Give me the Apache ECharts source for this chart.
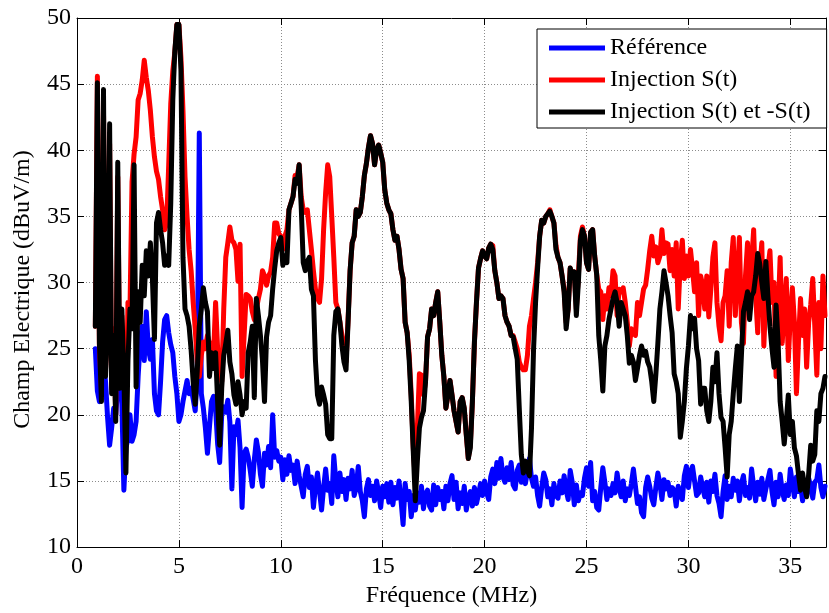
<!DOCTYPE html>
<html>
<head>
<meta charset="utf-8">
<script src="https://cdn.jsdelivr.net/npm/echarts@6/dist/echarts.min.js"></script>
<style>
html,body{margin:0;padding:0;background:#fff;}
#chart{width:829px;height:613px;}
</style>
</head>
<body>
<div id="chart"></div>
<script>
// Frequency sampling grid (MHz): first sample and spacing of the measurement
const freqStart = 0.9;
const freqStep = 0.1;

const seriesNames = ['Référence', 'Injection S(t)', 'Injection S(t) et -S(t)'];
const xTicks = [0, 5, 10, 15, 20, 25, 30, 35];
const yTicks = [10, 15, 20, 25, 30, 35, 40, 45, 50];

// Référence (dBuV/m), one value per 0.1 MHz from 0.9 MHz
const reference = [
  25.0,
  21.8, 21.0, 22.9, 24.3, 22.5, 19.8, 17.7, 19.0, 20.5, 20.0,
  22.0, 24.5, 21.0, 14.3, 17.5, 18.2, 20.0, 18.0, 18.5, 19.5,
  22.9, 25.5, 26.7, 24.1, 27.8, 25.0, 24.2, 25.7, 21.6, 20.3,
  20.0, 22.5, 25.5, 27.2, 27.5, 26.2, 25.3, 24.7, 22.9, 21.6,
  19.5, 20.0, 21.0, 21.8, 22.6, 21.6, 22.0, 21.2, 20.3, 23.0,
  41.3, 21.6, 20.5, 19.0, 17.1, 19.1, 21.0, 21.4, 20.5, 17.8,
  16.4, 20.0, 20.6, 20.2, 21.1, 19.5, 14.4, 19.1, 18.5, 19.6,
  17.5, 13.0, 17.1, 17.4, 16.8, 15.8, 14.6, 16.6, 18.1, 17.2,
  15.5, 14.6, 17.1, 16.2, 17.6, 16.0, 20.0, 16.8, 17.3, 16.5,
  16.8, 15.1, 16.6, 15.5, 16.9, 15.8, 16.2, 14.8, 16.5, 15.4,
  14.6, 13.8, 15.5, 16.1, 14.5, 15.3, 13.0, 14.6, 15.6, 14.2,
  12.8, 14.5, 15.9, 14.3, 14.8, 13.3, 16.9, 15.0, 13.8, 15.6,
  14.2, 15.1, 13.6, 15.2, 14.4, 15.8, 13.9, 14.5, 16.1, 14.2,
  13.5, 12.3, 14.4, 15.1, 13.9, 14.6, 13.5, 15.0, 14.1, 13.0,
  14.6, 13.8, 14.8, 13.4, 14.9, 13.2, 14.5, 13.7, 15.0, 13.5,
  11.7, 14.8, 13.6, 14.2, 12.3, 13.9, 12.8, 14.1, 13.4, 14.6,
  12.9, 14.0, 14.3, 13.1, 12.8, 14.7, 13.2, 14.5, 13.6, 14.2,
  12.9, 14.6, 13.5, 14.8, 15.4, 13.6, 14.9, 12.9, 14.1, 13.3,
  14.6, 12.8, 13.7, 14.2, 13.1, 14.5, 13.3, 14.0, 14.8, 13.9,
  15.0, 14.1, 13.6, 15.3, 15.9, 14.8, 16.4, 15.2, 16.7, 15.3,
  14.9, 16.0, 15.1, 16.4, 14.7, 14.4, 15.8, 16.2, 14.9, 15.5,
  14.8, 15.7, 16.7, 15.2, 14.6, 15.3, 13.9, 13.1, 14.5, 15.6,
  15.1, 13.8, 14.4, 13.2, 14.8, 13.9, 13.7, 15.0, 14.1, 15.4,
  14.3, 13.6, 15.8, 14.9, 13.2, 14.7, 13.5, 14.1, 13.9, 15.2,
  16.0, 14.6, 16.4, 13.5, 14.2, 13.0, 12.8, 14.5, 16.0, 14.9,
  13.6, 14.4, 13.9, 14.8, 14.1, 15.6, 14.5, 13.8, 15.0, 13.5,
  14.4, 13.9, 14.8, 15.9, 14.6, 13.3, 13.8, 12.6, 12.3, 14.5,
  15.3, 14.6, 13.7, 13.2, 14.5, 15.6, 14.8, 13.6, 15.1, 14.4,
  14.9, 13.9, 14.5, 14.3, 13.1, 14.6, 14.0, 13.6, 15.4, 16.1,
  14.5, 15.7, 16.1, 15.0, 13.9, 14.1, 15.3, 14.5, 13.8, 14.9,
  13.4, 15.0, 14.2, 15.5, 13.9, 13.3, 12.3, 14.2, 15.4, 13.6,
  14.6, 13.8, 15.2, 14.3, 15.0, 13.5, 14.8, 15.4, 13.9, 14.5,
  13.7, 15.9, 14.6, 13.5, 14.9, 14.0, 15.2, 13.6, 14.4, 15.1,
  15.8, 14.2, 13.2, 14.9, 13.8, 15.5, 14.3, 13.6, 14.7, 13.9,
  15.9, 14.8, 13.8, 15.3, 14.2, 14.7, 13.5, 14.4, 13.9, 15.2,
  14.6, 13.7, 14.9, 15.1, 16.2, 14.5, 13.8, 14.6
];

// Injection S(t)
const injectionS = [
  26.7,
  45.6, 25.0, 22.0, 43.0, 23.5, 27.5, 40.5, 22.0, 26.5, 20.0,
  38.0, 22.5, 27.5, 23.5, 18.0, 28.5, 28.0, 37.6, 39.7, 41.0,
  43.8, 44.3, 45.3, 46.8, 45.5, 44.5, 43.0, 41.0, 39.5, 38.4,
  37.8, 36.5, 35.5, 34.0, 34.5, 38.9, 43.5, 46.0, 47.4, 49.5,
  49.5, 47.0, 43.0, 38.0, 35.0, 32.5, 30.9, 28.5, 26.5, 24.0,
  22.9, 24.5, 25.5, 25.0, 26.0, 25.4, 25.4, 24.5, 28.5, 25.0,
  24.1, 22.5, 28.0, 31.9, 33.0, 34.2, 33.2, 33.0, 32.5, 30.1,
  32.9, 22.9, 26.0, 29.1, 29.0, 28.8, 27.8, 27.2, 28.0, 28.8,
  29.5, 30.9, 30.5, 29.8, 30.5, 30.8, 31.9, 34.5, 34.5, 33.7,
  33.5, 32.5, 33.5, 34.0, 35.5, 36.0, 36.5, 38.1, 38.0, 38.9,
  36.5, 35.5, 35.3, 35.5, 34.0, 32.5, 30.9, 29.5, 28.8, 28.5,
  30.3, 34.0, 36.8, 38.9, 38.0, 35.0, 31.9, 28.5, 28.0, 27.0,
  26.0, 25.0, 24.0, 27.2, 30.9, 33.0, 33.5, 35.5, 35.0, 35.3,
  36.5, 38.1, 39.0, 40.2, 41.1, 40.5, 38.9, 40.0, 40.4, 39.8,
  39.1, 37.0, 36.0, 35.5, 35.2, 34.0, 33.2, 33.5, 32.5, 31.0,
  30.3, 27.0, 26.2, 24.5, 21.5, 17.5, 15.0, 19.0, 23.1, 23.0,
  21.5, 22.5, 25.9, 26.5, 28.0, 27.5, 28.5, 29.3, 27.0, 24.5,
  22.9, 20.5, 21.5, 22.6, 21.5, 20.3, 19.5, 18.7, 21.0, 21.3,
  20.5, 18.5, 16.7, 17.8, 21.0, 25.5, 28.5, 31.1, 31.8, 32.4,
  32.0, 31.8, 32.6, 32.9, 32.8, 30.9, 30.0, 28.8, 29.0, 28.8,
  27.5, 27.0, 26.7, 26.0, 26.0, 25.5, 25.0, 24.0, 23.6, 23.4,
  23.4, 24.5, 26.7, 27.5, 28.8, 30.0, 31.5, 33.5, 34.7, 34.5,
  35.0, 35.2, 35.5, 35.0, 34.5, 32.8, 31.9, 31.5, 30.5, 29.5,
  27.0, 28.0, 31.1, 30.5, 30.8, 28.0, 30.5, 33.5, 34.2, 33.5,
  31.5, 31.0, 33.8, 34.0, 32.0, 30.6, 29.5, 29.3, 27.2, 29.0,
  28.0, 29.6, 29.0, 30.9, 30.5, 27.5, 29.5, 29.3, 29.6, 28.5,
  27.0, 25.2, 26.5, 26.2, 26.0, 28.5, 27.5, 28.5, 29.5, 29.8,
  31.0, 32.4, 33.5, 32.0, 32.7, 31.5, 32.0, 34.0, 32.2, 33.0,
  32.9, 30.9, 32.5, 30.5, 33.0, 28.0, 31.5, 33.2, 30.3, 32.0,
  30.5, 32.5, 31.0, 29.3, 31.5, 27.5, 30.5, 29.8, 28.0, 30.5,
  27.4, 29.5, 31.9, 33.0, 28.5, 26.7, 25.6, 28.5, 29.0, 30.9,
  26.7, 31.5, 33.4, 27.5, 30.5, 33.4, 27.0, 25.4, 30.5, 33.0,
  28.0, 31.5, 34.0, 29.0, 26.2, 31.0, 33.0, 25.2, 29.0, 31.1,
  32.4, 28.5, 30.0, 22.9, 27.5, 31.9, 25.4, 28.0, 30.3, 24.1,
  27.5, 29.6, 27.0, 21.6, 25.5, 28.8, 26.0, 28.0, 23.6, 27.0,
  28.3, 30.3, 26.7, 23.0, 28.5, 25.0, 30.5, 27.5
];

// Injection S(t) et -S(t)
const injectionSmS = [
  26.7,
  45.1, 25.4, 21.0, 44.6, 22.9, 27.0, 42.0, 21.6, 26.0, 19.5,
  39.1, 22.0, 28.0, 23.0, 15.6, 24.1, 28.0, 26.5, 38.9, 22.1,
  29.3, 27.0, 31.3, 29.0, 32.4, 30.5, 33.0, 30.3, 25.7, 34.5,
  35.3, 34.0, 33.0, 31.3, 32.0, 31.3, 36.0, 43.8, 47.5, 49.5,
  49.5, 46.1, 31.9, 28.0, 27.5, 26.7, 24.9, 22.5, 20.8, 23.3,
  26.7, 28.0, 29.6, 28.5, 27.8, 22.9, 24.7, 23.5, 24.7, 21.0,
  17.7, 22.0, 24.5, 25.4, 26.4, 24.0, 23.1, 21.5, 20.8, 22.5,
  21.5, 20.0, 21.0, 20.5, 24.7, 25.5, 26.7, 21.3, 28.8, 27.5,
  26.0, 24.1, 21.0, 25.9, 27.0, 27.5, 29.5, 31.1, 32.4, 33.0,
  33.4, 31.3, 32.0, 31.5, 35.5, 36.0, 36.5, 37.8, 37.5, 38.9,
  35.8, 31.5, 30.9, 31.6, 31.9, 29.5, 29.0, 24.1, 21.5, 20.8,
  22.1, 21.5, 20.8, 18.5, 18.2, 18.2, 26.0, 27.8, 28.0, 27.0,
  25.2, 24.0, 23.4, 27.0, 30.9, 33.0, 33.5, 35.5, 35.0, 35.3,
  36.5, 38.1, 39.0, 40.2, 41.1, 40.5, 38.9, 40.0, 40.4, 39.8,
  39.1, 37.0, 36.0, 35.5, 35.2, 34.0, 33.2, 33.5, 32.5, 31.0,
  30.3, 27.0, 26.2, 24.1, 21.0, 17.2, 13.5, 16.5, 19.0, 19.8,
  20.3, 22.5, 25.9, 26.5, 28.0, 27.5, 28.5, 29.3, 27.0, 24.5,
  22.9, 20.5, 21.5, 22.6, 21.5, 20.3, 19.5, 18.7, 21.0, 21.3,
  20.5, 18.5, 16.7, 17.5, 21.0, 25.5, 28.5, 31.1, 31.8, 32.4,
  32.0, 31.8, 32.6, 32.9, 32.5, 30.9, 30.0, 28.8, 29.0, 28.8,
  27.5, 27.0, 26.7, 26.0, 25.9, 25.0, 24.2, 20.5, 17.0, 15.6,
  16.5, 15.8, 15.4, 19.0, 24.9, 28.5, 31.1, 33.5, 34.7, 34.5,
  35.0, 35.2, 35.4, 35.0, 34.5, 32.5, 31.9, 31.5, 30.5, 29.3,
  26.5, 28.0, 31.1, 30.5, 30.8, 27.5, 30.0, 33.2, 34.0, 33.5,
  31.5, 31.0, 33.8, 34.0, 32.0, 30.6, 26.0, 24.1, 21.8, 25.2,
  26.0, 27.2, 28.0, 28.8, 29.3, 28.5, 26.7, 28.5, 28.0, 27.5,
  26.0, 23.9, 24.5, 24.0, 22.6, 23.5, 24.5, 25.2, 24.5, 24.8,
  24.0, 23.6, 22.5, 21.0, 23.0, 25.4, 28.0, 29.3, 30.9, 30.0,
  29.0, 27.5, 26.2, 23.1, 22.5, 21.6, 18.3, 19.5, 21.0, 23.5,
  25.2, 27.5, 26.5, 27.3, 25.0, 24.1, 20.8, 22.0, 22.0, 20.3,
  19.5, 21.0, 23.6, 22.5, 24.7, 21.6, 19.8, 19.5, 17.5, 15.3,
  18.5, 19.5, 21.6, 23.5, 25.2, 21.0, 24.5, 27.8, 28.5, 29.3,
  27.2, 29.0, 29.3, 30.5, 32.2, 31.4, 30.0, 28.8, 31.6, 29.0,
  26.7, 25.0, 23.6, 28.3, 25.5, 21.0, 19.5, 17.8, 19.5, 21.5,
  18.5, 19.5, 17.5, 16.9, 15.5, 14.3, 15.6, 14.5, 13.8, 15.5,
  17.7, 16.5, 17.0, 20.3, 19.5, 21.6, 22.0, 22.9
];

const FONT = "'Liberation Serif', 'Times New Roman', serif";

function pairs(values) {
  return values.map((v, i) => [Math.round((freqStart + i * freqStep) * 10) / 10, v]);
}

const chart = echarts.init(document.getElementById('chart'), null, { renderer: 'canvas' });

const lineStyleBase = { width: 5, cap: 'round', join: 'round' };

const option = {
  animation: false,
  backgroundColor: '#ffffff',
  grid: { left: 77, right: -2, top: 18, bottom: 61, containLabel: false },
  legend: {
    orient: 'vertical',
    left: 537,
    top: 29,
    backgroundColor: '#ffffff',
    borderColor: '#000000',
    borderWidth: 1,
    borderRadius: 0,
    padding: [6, 16, 3, 12],
    itemGap: 6,
    itemWidth: 56,
    itemHeight: 5,
    icon: 'rect',
    data: seriesNames,
    textStyle: { fontFamily: FONT, fontSize: 24, color: '#000', lineHeight: 26 }
  },
  xAxis: [
    {
      type: 'value', min: 0, max: 36.75, interval: 5,
      name: 'Fréquence (MHz)', nameLocation: 'middle', nameGap: 33,
      nameTextStyle: { fontFamily: FONT, fontSize: 24, color: '#000' },
      axisLine: { show: true, onZero: false, lineStyle: { color: '#000', width: 1 } },
      axisTick: { show: true, inside: true, length: 7, lineStyle: { color: '#000' } },
      axisLabel: {
        margin: 8, fontFamily: FONT, fontSize: 24, color: '#000',
        formatter: v => (xTicks.indexOf(v) >= 0 ? String(v) : '')
      },
      splitLine: { show: true, lineStyle: { color: '#8c8c8c', type: [1, 2], width: 1 } }
    },
    {
      type: 'value', min: 0, max: 36.75, interval: 5, position: 'top',
      axisLine: { show: true, onZero: false, lineStyle: { color: '#000', width: 1 } },
      axisTick: { show: true, inside: true, length: 7, lineStyle: { color: '#000' } },
      axisLabel: { show: false },
      splitLine: { show: false }
    }
  ],
  yAxis: [
    {
      type: 'value', min: 10, max: 50, interval: 5,
      name: 'Champ Electrique (dBuV/m)', nameLocation: 'middle', nameGap: 42,
      nameTextStyle: { fontFamily: FONT, fontSize: 24, color: '#000', padding: [0, 14, 0, 0] },
      axisLine: { show: true, onZero: false, lineStyle: { color: '#000', width: 1 } },
      axisTick: { show: true, inside: true, length: 7, lineStyle: { color: '#000' } },
      axisLabel: {
        margin: 6, fontFamily: FONT, fontSize: 24, color: '#000',
        formatter: v => (yTicks.indexOf(v) >= 0 ? String(v) : '')
      },
      splitLine: { show: true, lineStyle: { color: '#8c8c8c', type: [1, 2], width: 1 } }
    },
    {
      type: 'value', min: 10, max: 50, interval: 5, position: 'right',
      axisLine: { show: true, onZero: false, lineStyle: { color: '#000', width: 1 } },
      axisTick: { show: true, inside: true, length: 7, lineStyle: { color: '#000' } },
      axisLabel: { show: false },
      splitLine: { show: false }
    }
  ],
  series: [
    {
      name: seriesNames[0], type: 'line', showSymbol: false, symbol: 'none', z: 2,
      color: '#0000ff', lineStyle: Object.assign({ color: '#0000ff' }, lineStyleBase),
      data: pairs(reference)
    },
    {
      name: seriesNames[1], type: 'line', showSymbol: false, symbol: 'none', z: 3,
      color: '#ff0000', lineStyle: Object.assign({ color: '#ff0000' }, lineStyleBase),
      data: pairs(injectionS)
    },
    {
      name: seriesNames[2], type: 'line', showSymbol: false, symbol: 'none', z: 4,
      color: '#000000', lineStyle: Object.assign({ color: '#000000' }, lineStyleBase),
      data: pairs(injectionSmS)
    }
  ]
};

chart.setOption(option);
</script>
</body>
</html>
